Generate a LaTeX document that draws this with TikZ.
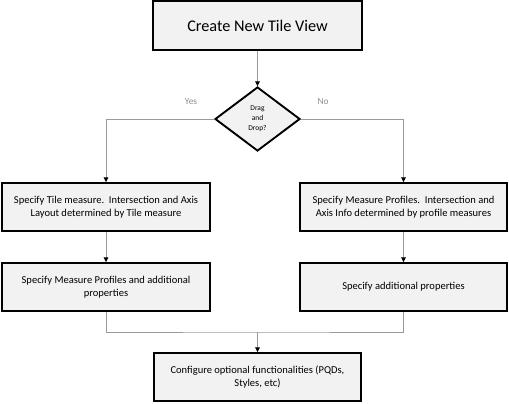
\documentclass[tikz,border=0pt]{standalone}
\usepackage{fontspec}
\setmainfont{Carlito}
\usetikzlibrary{shapes.geometric,arrows.meta}
\definecolor{boxfill}{HTML}{F2F2F2}
\definecolor{linegray}{HTML}{9A9A9A}
\definecolor{labgray}{HTML}{8C8C8C}
\begin{document}
\begin{tikzpicture}[x=0.75pt,y=-0.75pt,
  procbox/.style={draw=black,line width=1.4pt,fill=boxfill,minimum height=48*0.75pt,inner sep=0pt,align=center,font=\fontsize{7.9}{10}\selectfont},
  decide/.style={draw=black,line width=1.4pt,fill=boxfill,diamond,minimum width=85*0.75pt,minimum height=64*0.75pt,inner sep=0pt,align=center,font=\fontsize{5.6}{7.5}\selectfont},
  conn/.style={draw=linegray,line width=0.6pt},
  connarr/.style={conn,-{Triangle[length=3.5pt,width=3.5pt,color=black]}},
  lab/.style={text=labgray,font=\fontsize{7}{8}\selectfont}]
\useasboundingbox (0,0) rectangle (509,403);
\node[procbox,minimum width=209*0.75pt,minimum height=49*0.75pt,font=\fontsize{12.2}{14}\selectfont] (top) at (257.5,25.5) {Create New Tile View};
\node[decide] (dd) at (257.5,119) {Drag\\and\\Drop?};
\node[procbox,minimum width=208*0.75pt] (l1) at (106,207) {Specify Tile measure.\ \ Intersection and Axis\\Layout determined by Tile measure};
\node[procbox,minimum width=208*0.75pt] (l2) at (106,287) {Specify Measure Profiles and additional\\properties};
\node[procbox,minimum width=207*0.75pt] (r1) at (403.5,207) {Specify Measure Profiles.\ \ Intersection and\\Axis Info determined by profile measures};
\node[procbox,minimum width=207*0.75pt] (r2) at (403.5,287) {Specify additional properties};
\node[procbox,minimum width=207*0.75pt] (bt) at (257.5,377) {Configure optional functionalities (PQDs,\\Styles, etc)};
\node[lab] (yes) at (191,102) {Yes};
\node[lab] (no) at (323,102) {No};
\coordinate (m) at (257.5,332);
\draw[connarr] (top) -- (dd);
\draw[connarr] (dd.west) -| (l1.north);
\draw[connarr] (dd.east) -| (r1.north);
\draw[connarr] (l1) -- (l2);
\draw[connarr] (r1) -- (r2);
\draw[conn] (l2.south) |- (m) -| (r2.south);
\draw[connarr] (m) -- (bt.north);
\end{tikzpicture}
\end{document}
